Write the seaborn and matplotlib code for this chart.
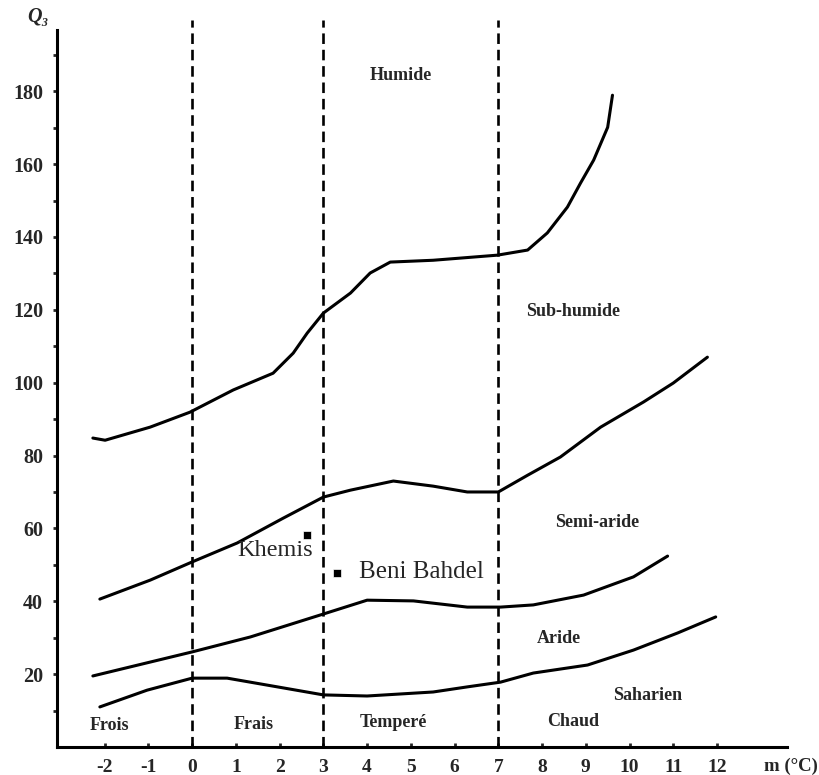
import matplotlib
matplotlib.use('Agg')
import matplotlib.pyplot as plt
import seaborn as sns

# Emberger climagram: limits between bioclimatic stages
# (m in degC, Q3 value)
humide_x = [-2.27, -1.99, -0.96, -0.05, 0.94, 1.85, 2.31, 2.63, 3.0, 3.62, 4.07, 4.53, 5.51, 6.98, 7.67, 8.12, 8.58, 8.88, 9.18, 9.50, 9.61]
humide_q = [84.8, 84.2, 87.8, 91.9, 98.0, 102.6, 108.1, 113.6, 119.1, 124.6, 130.1, 133.1, 133.6, 135.0, 136.4, 141.1, 148.2, 154.8, 161.1, 170.1, 178.9]

subhum_x = [-2.11, -0.96, 0.0, 1.03, 2.08, 3.0, 3.62, 4.6, 5.51, 6.29, 7.0, 7.67, 8.42, 9.34, 10.32, 11.0, 11.78]
subhum_q = [40.6, 45.8, 50.8, 56.0, 62.8, 68.6, 70.5, 73.0, 71.6, 70.0, 70.0, 74.6, 79.6, 87.8, 94.7, 99.9, 107.0]

semiar_x = [-2.27, -1.72, 0.0, 1.33, 3.0, 4.0, 5.06, 6.29, 7.05, 7.8, 8.95, 10.09, 10.87]
semiar_q = [19.5, 21.1, 26.1, 30.2, 36.5, 40.3, 40.1, 38.4, 38.4, 39.0, 41.7, 46.7, 52.4]

aride_x = [-2.11, -1.03, 0.0, 0.8, 1.95, 3.0, 4.0, 5.51, 6.29, 7.05, 7.8, 9.04, 10.09, 11.1, 11.97]
aride_q = [11.0, 15.6, 18.9, 18.9, 16.5, 14.3, 14.0, 15.1, 16.5, 17.8, 20.3, 22.5, 26.6, 31.3, 35.7]

# m limits between winter variants
m_limits = [0, 3, 7]

# stations
stations = ['Khemis', 'Beni Bahdel']
station_m = [2.63, 3.32]
station_q = [58.2, 47.8]

# zone labels (text, m, Q)
zones = ['Humide', 'Sub-humide', 'Semi-aride', 'Aride', 'Saharien']
zone_m = [4.76, 8.72, 9.27, 8.38, 10.41]
zone_q = [184.4, 119.4, 61.5, 29.9, 14.0]
winters = ['Frois', 'Frais', 'Temperé', 'Chaud']
winter_m = [-1.88, 1.4, 4.6, 8.7]
winter_q = [6.0, 6.3, 6.6, 6.9]

x_ticks = list(range(-2, 13))
y_ticks = list(range(20, 181, 20))

sns.set_style('white')
plt.rcParams['font.family'] = ['Liberation Serif', 'DejaVu Serif']

fig = plt.figure(figsize=(8.2, 7.75), dpi=100)
ax = fig.add_axes([57 / 820, 1 - 747 / 775, (787 - 57) / 820, (747 - 30) / 775])

for xs, qs in [(humide_x, humide_q), (subhum_x, subhum_q), (semiar_x, semiar_q), (aride_x, aride_q)]:
    sns.lineplot(x=xs, y=qs, sort=False, estimator=None, color='black', linewidth=2.2, ax=ax)

for m in m_limits:
    ax.plot([m, m], [0, 199.5], color='black', linewidth=1.9, linestyle=(0, (4, 2.2)), clip_on=False)

sns.scatterplot(x=station_m, y=station_q, color='black', marker='s', s=36, ax=ax, zorder=5)
ax.text(1.9, 53.8, stations[0], fontsize=17.5, ha='center', va='center')
ax.text(station_m[1] + 0.5, station_q[1] + 0.3, stations[1], fontsize=18, ha='left', va='center')

for t, m, q in zip(zones, zone_m, zone_q):
    ax.text(m, q, t, fontsize=13, fontweight='bold', ha='center', va='center')
for t, m, q in zip(winters, winter_m, winter_q):
    ax.text(m, q, t, fontsize=13, fontweight='bold', ha='center', va='center')

ax.set_xlim(-3.09, 13.6)
ax.set_ylim(0, 196.8)
ax.set_xticks(x_ticks)
ax.set_xticklabels([str(v) for v in x_ticks])
ax.set_yticks(y_ticks)
ax.set_yticks(list(range(10, 191, 10)), minor=True)
ax.set_yticklabels([str(v) for v in y_ticks])
ax.tick_params(axis='y', which='both', direction='out', length=3, width=2, pad=7, labelsize=14.5, left=True)
ax.tick_params(axis='x', direction='in', length=3, width=2, pad=9, labelsize=14, bottom=True)
for lab in ax.get_xticklabels() + ax.get_yticklabels():
    lab.set_fontweight('bold')

sns.despine(ax=ax)
ax.spines['left'].set_linewidth(2.2)
ax.spines['bottom'].set_linewidth(2.2)
ax.spines['left'].set_color('black')
ax.spines['bottom'].set_color('black')

ax.text(13.7, -5.3, 'm (°C)', fontsize=13.5, fontweight='bold', ha='center', va='center', clip_on=False)
fig.text(38 / 820, 1 - 17 / 775, 'Q₃', fontsize=14.5, fontweight='bold', fontstyle='italic', ha='center', va='center')

fig.savefig('out.png', dpi=100, facecolor='white')
